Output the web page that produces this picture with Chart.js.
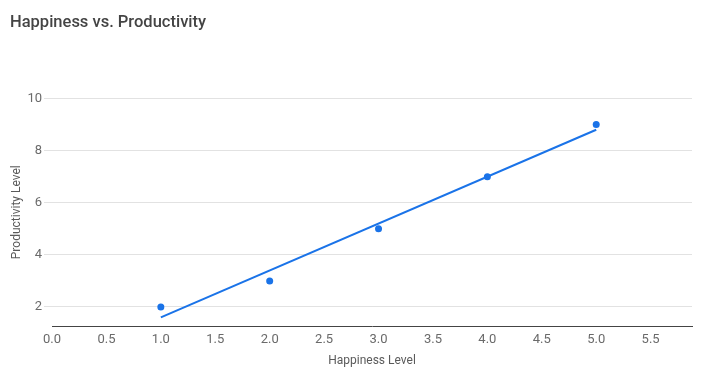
<!DOCTYPE html>
<html>
<head>
<meta charset="utf-8">
<script src="https://cdn.jsdelivr.net/npm/chart.js@4/dist/chart.umd.min.js"></script>
<style>
html,body{margin:0;padding:0;background:#fff;}
canvas{display:block;}
</style>
</head>
<body>
<canvas id="c" width="708" height="380"></canvas>
<script>
const chartTitle = "Happiness vs. Productivity";
const xTitle = "Happiness Level";
const yTitle = "Productivity Level";
const happiness = [1, 2, 3, 4, 5];
const productivity = [2, 3, 5, 7, 9];
const trendX = [1, 5];
const trendY = [1.6, 8.8];
const xTicks = [0, 0.5, 1, 1.5, 2, 2.5, 3, 3.5, 4, 4.5, 5, 5.5];
const yTicks = [2, 4, 6, 8, 10];

const blue = '#1a73e8';
const points = happiness.map((x, i) => ({x: x, y: productivity[i]}));
const trend = trendX.map((x, i) => ({x: x, y: trendY[i]}));

new Chart(document.getElementById('c'), {
  type: 'scatter',
  data: {
    datasets: [
      {
        label: 'Productivity',
        data: points,
        backgroundColor: blue,
        borderColor: blue,
        pointRadius: 3.5,
        pointBorderWidth: 0,
        order: 1
      },
      {
        type: 'line',
        label: 'Trendline',
        data: trend,
        borderColor: blue,
        borderWidth: 2,
        pointRadius: 0,
        fill: false,
        order: 2
      }
    ]
  },
  options: {
    responsive: false,
    animation: false,
    layout: { padding: { left: 10, right: 16, top: 0, bottom: 0 } },
    plugins: {
      legend: { display: false },
      tooltip: { enabled: false },
      title: {
        display: true,
        text: chartTitle,
        align: 'start',
        color: '#444',
        font: { family: 'Roboto', size: 16.5, weight: '500' },
        padding: { top: 13, bottom: 65.7 }
      }
    },
    scales: {
      x: {
        type: 'linear',
        min: 0,
        max: 5.88,
        afterBuildTicks: s => { s.ticks = xTicks.map(v => ({value: v})); },
        afterFit: s => { s.height = 54; },
        grid: { display: false, drawTicks: false },
        border: { display: true, color: '#444', width: 1 },
        ticks: {
          color: '#6a6a6a',
          padding: 6,
          maxRotation: 0,
          font: { family: 'Roboto', size: 13 },
          callback: v => Number(v).toFixed(1)
        },
        title: {
          display: true,
          text: xTitle,
          color: '#5a5a5a',
          font: { family: 'Roboto', size: 12 },
          padding: { top: 4, bottom: 12 }
        }
      },
      y: {
        type: 'linear',
        min: 1.27,
        max: 10,
        afterBuildTicks: s => { s.ticks = yTicks.map(v => ({value: v})); },
        afterFit: s => { s.width = 42; },
        grid: { color: '#e2e2e2', tickColor: '#e2e2e2', tickLength: 8, drawTicks: true, lineWidth: 1 },
        border: { display: false },
        ticks: {
          color: '#6a6a6a',
          padding: 2,
          font: { family: 'Roboto', size: 13 }
        },
        title: {
          display: true,
          text: yTitle,
          color: '#5a5a5a',
          font: { family: 'Roboto', size: 12 },
          padding: { top: 0, bottom: 0 }
        }
      }
    }
  }
});
</script>
</body>
</html>
